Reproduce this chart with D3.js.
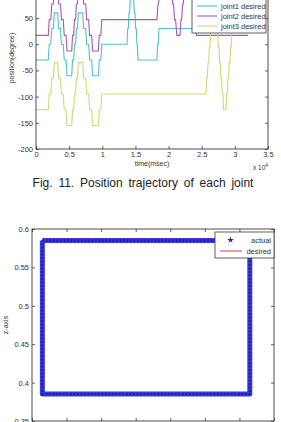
<!DOCTYPE html>
<html><head><meta charset="utf-8">
<script src="https://cdn.jsdelivr.net/npm/d3@7"></script>
<style>
html,body{margin:0;padding:0;background:#fff;}
svg{display:block;font-family:"Liberation Sans",Arial,sans-serif;}
</style></head>
<body><svg id="c" width="281" height="422"></svg>
<script>
// ---------- DATA : top chart (Fig. 11) ----------
const xTicks1 = [0,5000,10000,15000,20000,25000,30000,35000];
const xTickLabels1 = ["0","0.5","1","1.5","2","2.5","3","3.5"];
const yTicks1 = [-200,-150,-100,-50,0,50,100,150];
const yTickLabels1 = ["-200","-150","-100","-50","0","50","",""];
const legendNames1 = ["joint1 desired","joint2 desired","joint3 desired"];
const seriesColors1 = ["#4fc4c4","#a65ab6","#d6d672"];

const joint1 = [[0,-30],[1850,-30],[2000,0],[2230,0],[2380,30],[2610,30],[2760,60],[3270,60],[3420,30],[3690,30],[3840,0],[4110,0],[4260,-30],[4530,-30],[4680,-60],[5385,-60],[5515,-30],[5675,-30],[5805,0],[5965,0],[6095,30],[6255,30],[6385,60],[7045,60],[7195,30],[7495,30],[7645,0],[7945,0],[8095,-30],[8395,-30],[8545,-60],[9400,-60],[9550,-30],[9780,-30],[9930,0],
 [13730,0],[13830,30],[13930,30],[14030,60],[14130,60],[14230,90],[14330,90],[14430,120],[14530,120],[14630,90],[14730,90],[14830,60],[14930,60],[15030,30],[15130,30],[15230,0],[15290,0],[15390,-30],[18250,-30],[18350,0],[18450,0],[18550,30],[32000,30]];

const joint2 = [[0,17],[1850,17],[2000,47],[2230,47],[2380,77],[2610,77],[2760,107],[3270,107],[3420,77],[3690,77],[3840,47],[4110,47],[4260,17],[4530,17],[4680,-13],[5385,-13],[5515,17],[5675,17],[5805,47],[5965,47],[6095,77],[6255,77],[6385,107],[7045,107],[7195,77],[7495,77],[7645,47],[7945,47],[8095,17],[8395,17],[8545,-13],[9400,-13],[9550,17],[9780,17],[9930,47],
 [18250,47],[18400,77],[18500,77],[18650,107],[18750,107],[18900,137],[20150,137],[20300,107],[20450,107],[20600,77],[20750,77],[20900,47],[21050,47],[21250,17],[21720,17],[21870,47],[21970,47],[22120,77],[22220,77],[22370,107],[22470,107],[22620,137],[23300,137],[23450,107],[23550,107],[23700,77],[23800,77],[23950,47],[24050,47],[24200,17],[32000,17]];

const joint3 = [[0,-125],[1850,-125],[2000,-95],[2230,-95],[2380,-65],[2610,-65],[2760,-35],[3270,-35],[3420,-65],[3690,-65],[3840,-95],[4110,-95],[4260,-125],[4530,-125],[4680,-155],[5385,-155],[5515,-125],[5675,-125],[5805,-95],[5965,-95],[6095,-65],[6255,-65],[6385,-35],[7045,-35],[7195,-65],[7495,-65],[7645,-95],[7945,-95],[8095,-125],[8395,-125],[8545,-155],[9400,-155],[9550,-125],[9780,-125],[9930,-95],
 [25650,-95],[25750,-65],[25850,-65],[25950,-35],[26050,-35],[26150,-5],[26250,-5],[26350,25],[26450,25],[26550,55],[26650,55],[26750,85],[27000,85],[27100,55],[27200,55],[27300,25],[27400,25],[27500,-5],[27600,-5],[27700,-35],[27800,-35],[27900,-65],[28000,-65],[28100,-95],[28200,-95],[28300,-125],[28660,-125],[28760,-95],[28860,-95],[28960,-65],[29060,-65],[29160,-35],[29260,-35],[29360,-5],[29460,-5],[29560,25],[29660,25],[29760,55],[32000,55]];

// ---------- DATA : bottom chart ----------
const xTicks2 = [0,0.05,0.1,0.15,0.2,0.25,0.3,0.35];
const yTicks2 = [0.35,0.4,0.45,0.5,0.55,0.6];
const yTickLabels2 = ["0.35","0.4","0.45","0.5","0.55","0.6"];
const desiredPath = [[0.015,0.585],[0.315,0.585],[0.315,0.385],[0.015,0.385],[0.015,0.585]];
const actualPath  = [[0.015,0.585],[0.315,0.585],[0.315,0.385],[0.015,0.385],[0.015,0.585]];
const legendNames2 = ["actual","desired"];

// ---------- DRAW ----------
const svg = d3.select("#c");
const axisCol = "#3a3a3a", textCol = "#333";

// ===== top chart =====
const x1 = d3.scaleLinear().domain([0,35000]).range([36,268]);
const y1 = d3.scaleLinear().domain([-200,150]).range([149,-34.3]);
const g1 = svg.append("g");

const line1 = d3.line().x(d=>x1(d[0])).y(d=>y1(d[1]));
[joint1,joint2,joint3].forEach((s,i)=>{
  g1.append("path").attr("d",line1(s)).attr("fill","none")
    .attr("stroke",seriesColors1[i]).attr("stroke-width",1.1);
});

function styleAxis(sel){
  sel.select(".domain").remove();
  sel.selectAll(".tick line").attr("stroke",axisCol).attr("stroke-width",0.8);
  sel.selectAll(".tick text").attr("fill",textCol).attr("font-size","7.5px")
    .attr("font-family","'Liberation Sans',Arial,sans-serif");
}
g1.append("g").attr("transform","translate(0,149)")
  .call(d3.axisBottom(x1).tickValues(xTicks1).tickSize(-3).tickPadding(3)
    .tickFormat((d,i)=>xTickLabels1[i])).call(styleAxis);
g1.append("g").attr("transform","translate(36,0)")
  .call(d3.axisLeft(y1).tickValues(yTicks1).tickSize(-3).tickPadding(3)
    .tickFormat((d,i)=>yTickLabels1[i])).call(styleAxis);
g1.append("g").attr("transform","translate(268,0)")
  .call(d3.axisRight(y1).tickValues(yTicks1).tickSize(-3).tickFormat("")).call(styleAxis);
g1.append("rect").attr("x",x1(0)).attr("y",y1(150)).attr("width",x1(35000)-x1(0))
  .attr("height",y1(-200)-y1(150)).attr("fill","none").attr("stroke",axisCol).attr("stroke-width",0.9);

g1.append("text").attr("x",152).attr("y",166).attr("text-anchor","middle")
  .attr("font-size","7px").attr("fill",textCol).text("time(msec)");
const ex = g1.append("text").attr("x",253).attr("y",170).attr("font-size","6.5px").attr("fill",textCol);
ex.append("tspan").text("x 10");
ex.append("tspan").attr("dy",-3).attr("font-size","5px").text("4");
g1.append("text").attr("transform","translate(14,58) rotate(-90)").attr("text-anchor","middle")
  .attr("font-size","7px").attr("fill",textCol).text("position(degree)");

// legend (top)
const lg1 = g1.append("g");
lg1.append("rect").attr("x",192).attr("y",-34).attr("width",74).attr("height",67)
  .attr("fill","#fff").attr("stroke",axisCol).attr("stroke-width",0.8);
legendNames1.forEach((n,i)=>{
  const yy = 6 + i*10;
  lg1.append("line").attr("x1",197).attr("x2",217).attr("y1",yy).attr("y2",yy)
    .attr("stroke",seriesColors1[i]).attr("stroke-width",1.1);
  lg1.append("text").attr("x",221).attr("y",yy+2.6).attr("font-size","7.5px")
    .attr("fill",textCol).text(n);
});

// caption
svg.append("text").attr("x",143).attr("y",187).attr("text-anchor","middle")
  .attr("font-size","12px").attr("fill","#222").attr("word-spacing","2.5px")
  .text("Fig. 11. Position trajectory of each joint");

// ===== bottom chart =====
const x2 = d3.scaleLinear().domain([0,0.35]).range([32,274]);
const y2 = d3.scaleLinear().domain([0.35,0.6]).range([421,229]);
const g2 = svg.append("g");

g2.append("g").attr("transform","translate(0,421)")
  .call(d3.axisBottom(x2).tickValues(xTicks2).tickSize(-3).tickFormat("")).call(styleAxis);
g2.append("g").attr("transform","translate(0,229)")
  .call(d3.axisTop(x2).tickValues(xTicks2).tickSize(-3).tickFormat("")).call(styleAxis);
g2.append("g").attr("transform","translate(32,0)")
  .call(d3.axisLeft(y2).tickValues(yTicks2).tickSize(-3).tickPadding(3)
    .tickFormat((d,i)=>yTickLabels2[i])).call(styleAxis);
g2.append("g").attr("transform","translate(274,0)")
  .call(d3.axisRight(y2).tickValues(yTicks2).tickSize(-3).tickFormat("")).call(styleAxis);
g2.append("rect").attr("x",x2(0)).attr("y",y2(0.6)).attr("width",x2(0.35)-x2(0))
  .attr("height",y2(0.35)-y2(0.6)).attr("fill","none").attr("stroke",axisCol).attr("stroke-width",0.9);

const line2 = d3.line().x(d=>x2(d[0])).y(d=>y2(d[1]));
g2.append("path").attr("d",line2(desiredPath)).attr("fill","none").attr("stroke","#c03030").attr("stroke-width",1);
g2.append("path").attr("d",line2(actualPath)).attr("fill","none").attr("stroke","#3a3ad8")
  .attr("stroke-width",5).attr("stroke-linejoin","round");
g2.append("path").attr("d",line2(actualPath)).attr("fill","none").attr("stroke","#1c1cb8")
  .attr("stroke-width",2.4).attr("stroke-dasharray","2,1.5");

g2.append("text").attr("transform","translate(8,325) rotate(-90)").attr("text-anchor","middle")
  .attr("font-size","7px").attr("fill",textCol).text("z-axis");

// legend (bottom)
const lg2 = g2.append("g");
lg2.append("rect").attr("x",215).attr("y",232).attr("width",59).attr("height",26)
  .attr("fill","#fff").attr("stroke",axisCol).attr("stroke-width",0.8);
lg2.append("path").attr("d",d3.symbol(d3.symbolStar,14)()).attr("transform","translate(230.5,240)")
  .attr("fill","#2626c8");
lg2.append("line").attr("x1",220).attr("x2",242).attr("y1",251).attr("y2",251)
  .attr("stroke","#c03030").attr("stroke-width",0.9);
legendNames2.forEach((n,i)=>{
  lg2.append("text").attr("x",271).attr("y",242.5+i*11).attr("text-anchor","end")
    .attr("font-size","7.5px").attr("fill",textCol).text(n);
});
</script></body></html>
